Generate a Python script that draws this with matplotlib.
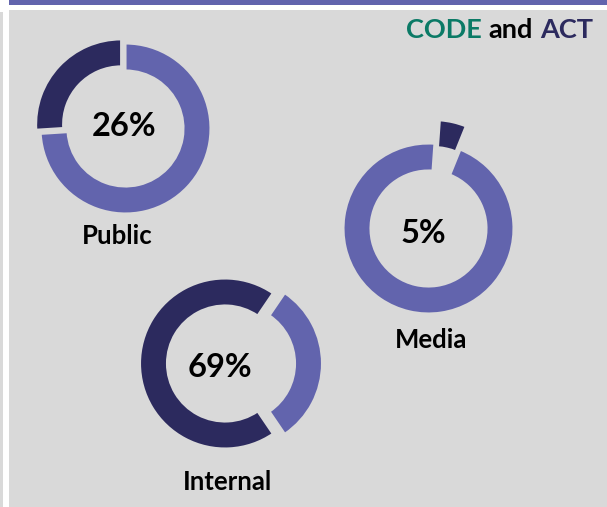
import matplotlib
matplotlib.use("Agg")
import matplotlib.pyplot as plt
from matplotlib.patches import Rectangle

# data
labels = ["Public", "Media", "Internal"]
shares = [26, 5, 69]   # percent of the dark slice

DARK = "#2c2a5e"
LIGHT = "#6264ad"
BG = "#d9d9d9"
TEAL = "#0b7a66"

W, H = 607, 507
plt.rcParams["font.family"] = ["Lato", "DejaVu Sans"]

fig = plt.figure(figsize=(W / 100, H / 100), dpi=100)
fig.patch.set_facecolor("white")
ax = fig.add_axes([0, 0, 1, 1])


def py(y):
    # pixel rows are counted from the top
    return H - y


# panel background and frame bits
ax.add_patch(Rectangle((9, 0), W - 9, py(10), color=BG, lw=0))
ax.add_patch(Rectangle((0, 0), 3, py(12), color=BG, lw=0))
ax.add_patch(Rectangle((9, py(5)), W - 9, 5, color=LIGHT, lw=0))

# layout (pixels from top-left)
centers = [(125.5, 128.5), (428.5, 228.5), (225, 363.5)]
pct_pos = [(124.5, 136), (423, 243), (220, 377)]
lab_pos = [(117.5, 244.5), (431, 348), (227.5, 490)]
radius = 85
ring = 27

for i, (lab, s) in enumerate(zip(labels, shares)):
    cx, cy = centers[i]
    vals = [s, 100 - s]
    if lab == "Public":
        start, cc, expl = 90, True, [6, 0]
    elif lab == "Media":
        start, cc, expl = 86, False, [24, 0]
    else:
        start, cc, expl = 360 * (100 - s) / 200, True, [0, 12]
    ax.pie(vals, colors=[DARK, LIGHT], startangle=start, counterclock=cc,
           explode=expl, center=(cx, py(cy)), radius=radius,
           wedgeprops=dict(width=ring, edgecolor=BG, linewidth=1.5))
    px, pyy = pct_pos[i]
    ax.text(px, py(pyy), f"{s}%", ha="center", va="baseline",
            fontsize=23.5, fontweight="bold", color="black")
    lx, ly = lab_pos[i]
    ax.text(lx, py(ly), lab, ha="center", va="baseline",
            fontsize=18.5, fontweight="bold", color="black")

# title in three colours
t1 = ax.text(406, py(38.3), "CODE", ha="left", va="baseline",
             fontsize=19.5, fontweight="bold", color=TEAL)
t2 = ax.annotate("and", xy=(1, 0), xycoords=t1, xytext=(5, 0),
                 textcoords="offset points", ha="left", va="bottom",
                 fontsize=19.5, fontweight="bold", color="black")
ax.annotate("ACT", xy=(1, 0), xycoords=t2, xytext=(5, 0),
            textcoords="offset points", ha="left", va="bottom",
            fontsize=19.5, fontweight="bold", color=DARK)

ax.set_xlim(0, W)
ax.set_ylim(0, H)
ax.set_aspect("equal")
ax.axis("off")

fig.savefig("out.png", dpi=100, facecolor=fig.get_facecolor())
